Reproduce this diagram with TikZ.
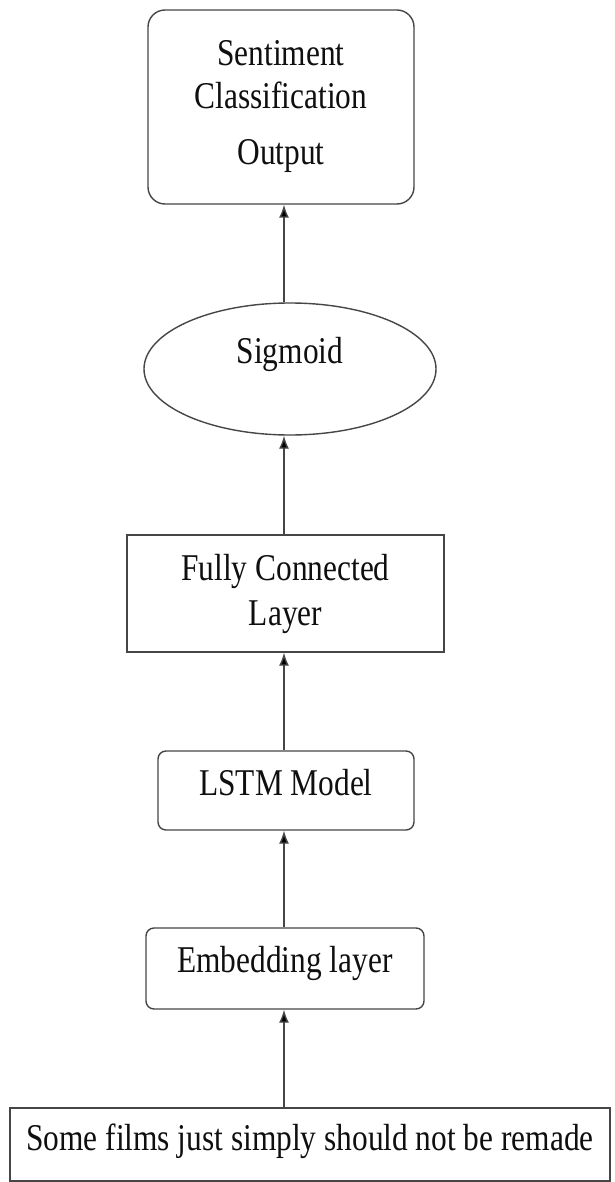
\documentclass[tikz,border=0pt]{standalone}
\usepackage{fontspec}
\setmainfont{Liberation Serif}[FakeStretch=0.83]
\usetikzlibrary{shapes.geometric,arrows.meta}
\definecolor{linec}{RGB}{70,70,70}
\definecolor{textc}{RGB}{15,15,15}
\tikzset{
  box/.style={draw=linec, line width=1.4pt, inner sep=0pt, text=textc,
    font=\fontsize{37.8}{43}\selectfont, align=center},
  rbox/.style={box, rounded corners=8pt},
  ell/.style={box, ellipse},
  arr/.style={draw=linec, line width=1.4pt, -{Latex[length=13pt,width=10pt,fill=black]}}
}
\begin{document}
\begin{tikzpicture}[x=1pt,y=-1pt]
\useasboundingbox (0,0) rectangle (615,1182);
\fill[white] (0,0) rectangle (615,1182);
\node[rbox, rounded corners=17pt, minimum width=266pt, minimum height=194pt] (out) at (281,107)
  {Sentiment\\[0pt]Classification\\[13pt]Output};
\node[ell, minimum width=292pt, minimum height=132pt, text height=26pt, text depth=38pt] (sig) at (290,369) {Sigmoid};
\node[box, minimum width=317pt, minimum height=117pt, font=\fontsize{37.8}{45}\selectfont] (fc) at (285.5,593.5) {Fully Connected\\Layer};
\node[rbox, minimum width=256pt, minimum height=79pt, text height=26pt, text depth=17pt] (lstm) at (286,790.5) {LSTM Model};
\node[rbox, minimum width=278pt, minimum height=81pt, text height=26pt, text depth=19pt] (emb) at (285,968.5) {Embedding layer};
\node[box, minimum width=600pt, minimum height=73pt, text height=26pt, text depth=15pt] (inp) at (310,1144.5) {Some films just simply should not be remade};
\coordinate (ax) at (284,0);
\draw[arr] (inp.north -| ax) -- (emb.south -| ax);
\draw[arr] (emb.north -| ax) -- (lstm.south -| ax);
\draw[arr] (lstm.north -| ax) -- (fc.south -| ax);
\draw[arr] (fc.north -| ax) -- (sig.south -| ax);
\draw[arr] (sig.north -| ax) -- (out.south -| ax);
\end{tikzpicture}
\end{document}
